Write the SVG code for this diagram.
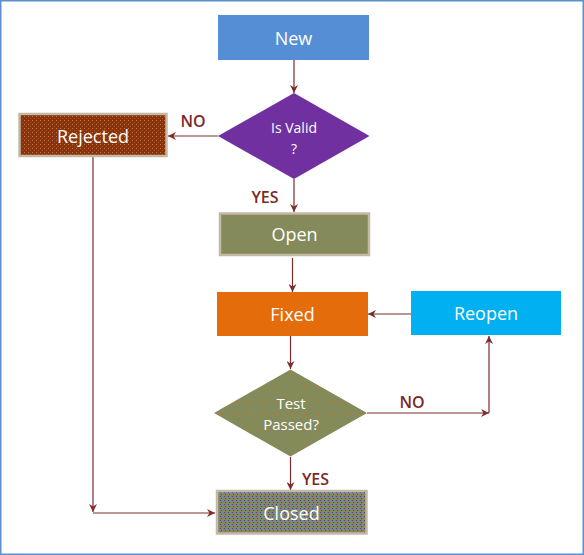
<svg xmlns="http://www.w3.org/2000/svg" width="584" height="555" viewBox="0 0 584 555">
<style>
.lbl{font-family:"Open Sans","Noto Sans",sans-serif;fill:#ffffff;text-anchor:middle;dominant-baseline:central}
.yn{font-family:"Open Sans","Noto Sans",sans-serif;fill:#7b2a2a;font-size:16px;font-weight:600;text-anchor:middle;dominant-baseline:central}
.c{fill:none;stroke:#7b2c2c;stroke-width:1.2}
.tan{stroke:#c4b9a4;stroke-width:2.5}
</style>
<defs>
<marker id="ah" viewBox="0 0 8 8" refX="8" refY="4" markerWidth="8" markerHeight="8" markerUnits="userSpaceOnUse" orient="auto">
<path d="M0,0 L8,4 L0,8 L2.5,4 z" fill="#7b2c2c"/>
</marker>
<pattern id="pRej" width="4" height="4" patternUnits="userSpaceOnUse">
<rect width="4" height="4" fill="#7f3516"/>
<rect x="0" y="0" width="1" height="1" fill="#e46c0a"/>
<rect x="2" y="2" width="1" height="1" fill="#b4520e"/>
</pattern>
<pattern id="pTest" width="14" height="14" patternUnits="userSpaceOnUse">
<rect width="14" height="14" fill="#848a5a"/>
<rect x="3" y="2" width="1" height="1" fill="#e46c0a"/>
<rect x="10" y="9" width="1" height="1" fill="#e46c0a"/>
</pattern>
<pattern id="pClosed" width="4" height="4" patternUnits="userSpaceOnUse">
<rect width="4" height="4" fill="#848a5a"/>
<rect x="0" y="0" width="1" height="1" fill="#7030a0"/>
<rect x="2" y="1" width="1" height="1" fill="#558ed5"/>
<rect x="1" y="2" width="1" height="1" fill="#7030a0"/>
<rect x="3" y="3" width="1" height="1" fill="#558ed5"/>
<rect x="3" y="0" width="1" height="1" fill="#6a7fb0"/>
</pattern>
</defs>
<rect x="0.75" y="0.75" width="582.5" height="553.5" fill="#ffffff" stroke="#5b8fd0" stroke-width="1.5"/>
<g id="connectors">
<line class="c" x1="294" y1="60" x2="294" y2="93" marker-end="url(#ah)"/>
<line class="c" x1="218" y1="136" x2="168" y2="136" marker-end="url(#ah)"/>
<line class="c" x1="294" y1="179" x2="294" y2="212" marker-end="url(#ah)"/>
<line class="c" x1="292.5" y1="258" x2="292.5" y2="292" marker-end="url(#ah)"/>
<line class="c" x1="411" y1="314" x2="368" y2="314" marker-end="url(#ah)"/>
<line class="c" x1="290.5" y1="336" x2="290.5" y2="369" marker-end="url(#ah)"/>
<line class="c" x1="367" y1="413" x2="489" y2="413" marker-end="url(#ah)"/>
<line class="c" x1="489" y1="413" x2="489" y2="336" marker-end="url(#ah)"/>
<line class="c" x1="290.5" y1="457" x2="290.5" y2="490" marker-end="url(#ah)"/>
<line class="c" x1="93" y1="157" x2="93" y2="512" marker-end="url(#ah)"/>
<line class="c" x1="93" y1="513" x2="215" y2="513" marker-end="url(#ah)"/>
<text class="yn" x="193" y="121">NO</text>
<text class="yn" x="265" y="197">YES</text>
<text class="yn" x="412" y="402">NO</text>
<text class="yn" x="315.5" y="479">YES</text>
</g>
<g id="new">
<rect x="218" y="15" width="151" height="45" fill="#558ed5"/>
<text class="lbl" x="293.5" y="38" font-size="18">New</text>
</g>
<g id="isvalid">
<polygon points="294,93 369.5,136 294,179 218,136" fill="#7030a0"/>
<text class="lbl" x="294" y="127" font-size="14">Is Valid</text>
<text class="lbl" x="294" y="148" font-size="14">?</text>
</g>
<g id="rejected">
<rect x="19.5" y="114" width="147" height="42" fill="url(#pRej)" class="tan"/>
<text class="lbl" x="93" y="136" font-size="18">Rejected</text>
</g>
<g id="open">
<rect x="220" y="213.5" width="149" height="41.5" fill="#848a5a" class="tan"/>
<text class="lbl" x="294.5" y="234" font-size="18">Open</text>
</g>
<g id="fixed">
<rect x="217" y="292" width="151" height="44" fill="#e46c0a"/>
<text class="lbl" x="292.5" y="314" font-size="18">Fixed</text>
</g>
<g id="reopen">
<rect x="411" y="291" width="150" height="44" fill="#00b0f0"/>
<text class="lbl" x="486" y="313" font-size="18">Reopen</text>
</g>
<g id="testpassed">
<polygon points="290.5,369.5 367,413 290.5,456.5 214,413" fill="url(#pTest)"/>
<text class="lbl" x="291" y="403" font-size="15">Test</text>
<text class="lbl" x="291" y="424" font-size="15">Passed?</text>
</g>
<g id="closed">
<rect x="217" y="491" width="149.5" height="42.5" fill="url(#pClosed)" class="tan"/>
<text class="lbl" x="291.5" y="513" font-size="18">Closed</text>
</g>
</svg>
